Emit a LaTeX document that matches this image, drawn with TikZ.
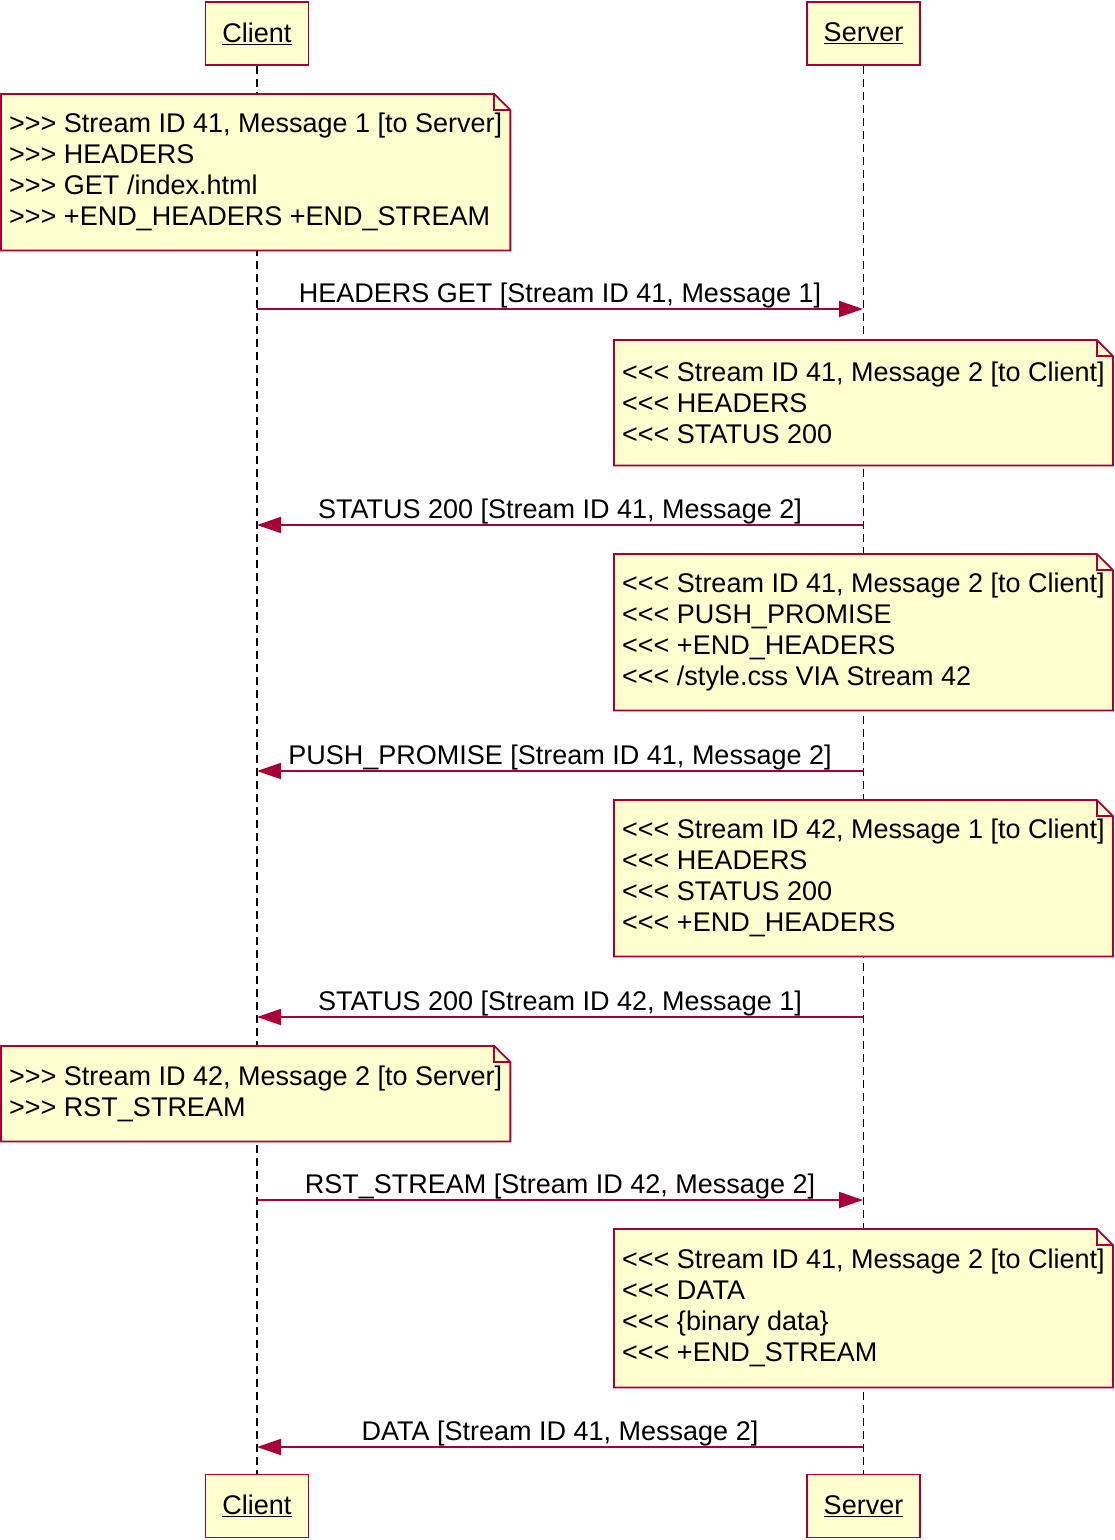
\documentclass[tikz,border=0pt]{standalone}
\usepackage{fontspec}
\setmainfont{Liberation Sans}[Ligatures=TeXOff]
\usetikzlibrary{arrows.meta,calc}
\definecolor{umlfill}{HTML}{FEFECE}
\definecolor{umlline}{HTML}{A80036}
\newcommand{\umlfont}{\fontsize{27}{31}\selectfont}
\tikzset{
  actor/.style={draw=umlline, fill=umlfill, line width=1.8pt, minimum height=63pt,
    inner xsep=17pt, font=\umlfont},
  notebox/.style={fill=umlfill, anchor=north west, align=left, inner xsep=8pt,
    inner ysep=4pt, minimum height=#1, font=\umlfont},
  noteline/.style={draw=umlline, line width=1.8pt, line join=miter},
  lifeline/.style={dash pattern=on 8pt off 5pt, line width=1.6pt},
  msg/.style={draw=umlline, line width=1.8pt, -{Triangle[length=24pt,width=16pt]}},
  msglabel/.style={above, inner sep=0.5pt, font=\umlfont}
}
\begin{document}
\begin{tikzpicture}[x=1pt, y=-1pt]
  \useasboundingbox (0,0) rectangle (1115,1540);
  % participants
  \node[actor] (clientT) at (257,33.5) {\underline{Client}};
  \node[actor] (serverT) at (863.5,33.5) {\underline{Server}};
  \node[actor] (clientB) at (257,1506) {\underline{Client}};
  \node[actor] (serverB) at (863.5,1506) {\underline{Server}};
  \draw[lifeline] (clientT) -- (clientB);
  \draw[lifeline] (serverT) -- (serverB);

  % notes
  \node[notebox=156pt] (n1) at (1,94)
    {>>> Stream ID 41, Message 1 [to Server]\\>>> HEADERS\\>>> GET /index.html\\>>> +END\_HEADERS +END\_STREAM};
  \node[notebox=125pt] (n2) at (614,340)
    {<<< Stream ID 41, Message 2 [to Client]\\<<< HEADERS\\<<< STATUS 200};
  \node[notebox=156pt] (n3) at (614,554)
    {<<< Stream ID 41, Message 2 [to Client]\\<<< PUSH\_PROMISE\\<<< +END\_HEADERS\\<<< /style.css VIA Stream 42};
  \node[notebox=156pt] (n4) at (614,800)
    {<<< Stream ID 42, Message 1 [to Client]\\<<< HEADERS\\<<< STATUS 200\\<<< +END\_HEADERS};
  \node[notebox=95pt] (n5) at (1,1046)
    {>>> Stream ID 42, Message 2 [to Server]\\>>> RST\_STREAM};
  \node[notebox=158pt] (n6) at (614,1229)
    {<<< Stream ID 41, Message 2 [to Client]\\<<< DATA\\<<< \{binary data\}\\<<< +END\_STREAM};
  \foreach \n in {n1,n2,n3,n4,n5,n6} {
    \fill[white] ($(\n.north east)+(-16,0)$) -- (\n.north east) -- ($(\n.north east)+(0,16)$) -- cycle;
    \draw[noteline] (\n.north west) -- ($(\n.north east)+(-16,0)$) -- ($(\n.north east)+(0,16)$)
      -- (\n.south east) -- (\n.south west) -- cycle;
    \draw[noteline] ($(\n.north east)+(-16,0)$) -- ($(\n.north east)+(-16,16)$) -- ($(\n.north east)+(0,16)$);
  }

  % messages
  \coordinate (c1) at (257,309);  \coordinate (s1) at (863,309);
  \coordinate (c2) at (257,525);  \coordinate (s2) at (863,525);
  \coordinate (c3) at (257,771);  \coordinate (s3) at (863,771);
  \coordinate (c4) at (257,1017); \coordinate (s4) at (863,1017);
  \coordinate (c5) at (257,1200); \coordinate (s5) at (863,1200);
  \coordinate (c6) at (257,1447); \coordinate (s6) at (863,1447);
  \draw[msg] (c1) -- node[msglabel] {HEADERS GET [Stream ID 41, Message 1]} (s1);
  \draw[msg] (s2) -- node[msglabel] {STATUS 200 [Stream ID 41, Message 2]} (c2);
  \draw[msg] (s3) -- node[msglabel] {PUSH\_PROMISE [Stream ID 41, Message 2]} (c3);
  \draw[msg] (s4) -- node[msglabel] {STATUS 200 [Stream ID 42, Message 1]} (c4);
  \draw[msg] (c5) -- node[msglabel] {RST\_STREAM [Stream ID 42, Message 2]} (s5);
  \draw[msg] (s6) -- node[msglabel] {DATA [Stream ID 41, Message 2]} (c6);
\end{tikzpicture}
\end{document}
